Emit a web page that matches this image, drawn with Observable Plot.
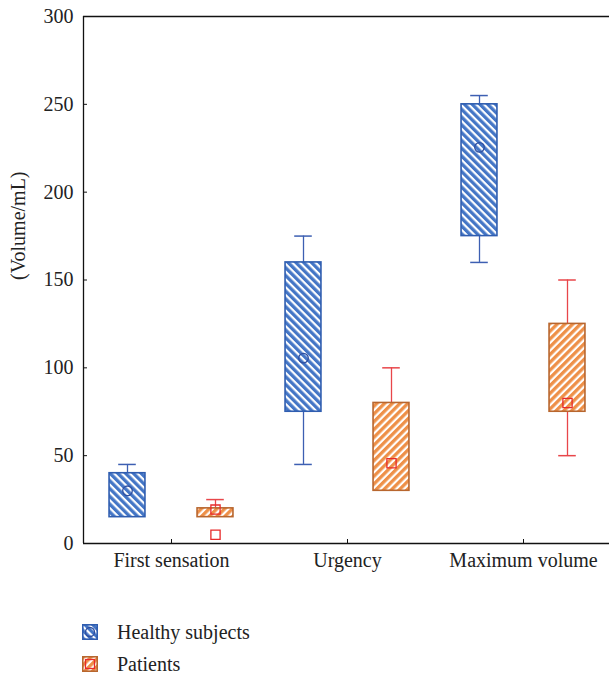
<!DOCTYPE html>
<html>
<head>
<meta charset="utf-8">
<script src="https://cdn.jsdelivr.net/npm/d3@7"></script>
<script src="https://cdn.jsdelivr.net/npm/@observablehq/plot@0.6"></script>
<style>
  body { margin: 0; background: #fff; font-family: "Liberation Serif", "DejaVu Serif", serif; }
  #legend { position: relative; margin-left: 82px; margin-top: 16px; font-size: 20px; color: #222; }
  .item { display: flex; align-items: center; height: 32px; }
  .item svg { margin-right: 19px; }
</style>
</head>
<body>
<div id="chart"></div>
<div id="legend"></div>
<script>
// ---- data ----
const categories = ["First sensation", "Urgency", "Maximum volume"];
const groups = ["Healthy subjects", "Patients"];
const healthyLow  = [15, 45, 160];
const healthyQ1   = [15, 75, 175];
const healthyQ3   = [40, 160, 250];
const healthyHigh = [45, 175, 255];
const healthyMean = [30, 105.5, 225.5];
const patientsLow  = [15, 30, 50];
const patientsQ1   = [15, 30, 75];
const patientsQ3   = [20, 80, 125];
const patientsHigh = [25, 100, 150];
const patientsMean = [19.3, 45.7, 80];
const patientsOutliers = [{category: "First sensation", value: 5}];
const yTicks = [0, 50, 100, 150, 200, 250, 300];

// ---- styles ----
const style = {
  "Healthy subjects": {fill: "url(#hatchBlue)", box: "#2f5db0", whisker: "#3d5fb2", mean: "#2f4fa0", symbol: "circle", offset: -0.25},
  "Patients": {fill: "url(#hatchOrange)", box: "#b8662e", whisker: "#e8464a", mean: "#e82a2a", symbol: "square", offset: 0.25}
};

const rows = [];
categories.forEach((c, i) => {
  rows.push({category: c, group: groups[0], i, lo: healthyLow[i], q1: healthyQ1[i], q3: healthyQ3[i], hi: healthyHigh[i], mean: healthyMean[i]});
  rows.push({category: c, group: groups[1], i, lo: patientsLow[i], q1: patientsQ1[i], q3: patientsQ3[i], hi: patientsHigh[i], mean: patientsMean[i]});
});
rows.forEach(d => d.x = d.i + style[d.group].offset);
const outliers = patientsOutliers.map(o => ({x: categories.indexOf(o.category) + style["Patients"].offset, value: o.value}));

const halfBox = 0.102, halfCap = 0.05;
const font = "'Liberation Serif', 'DejaVu Serif', serif";

const svg = Plot.plot({
  width: 609,
  height: 600,
  marginTop: 16,
  marginBottom: 57,
  marginLeft: 83,
  marginRight: 0,
  style: {fontFamily: font, fontSize: "20px", color: "#222", background: "#fff"},
  x: {type: "linear", domain: [-0.5, 2.5], range: [83, 611]},
  y: {domain: [0, 300], range: [543, 16]},
  marks: [
    // whiskers
    Plot.ruleX(rows.filter(d => d.hi > d.q3), {x: "x", y1: "q3", y2: "hi", stroke: d => style[d.group].whisker, strokeWidth: 1.3}),
    Plot.ruleX(rows.filter(d => d.lo < d.q1), {x: "x", y1: "lo", y2: "q1", stroke: d => style[d.group].whisker, strokeWidth: 1.3}),
    Plot.ruleY(rows.filter(d => d.hi > d.q3), {y: "hi", x1: d => d.x - halfCap, x2: d => d.x + halfCap, stroke: d => style[d.group].whisker, strokeWidth: 1.5}),
    Plot.ruleY(rows.filter(d => d.lo < d.q1), {y: "lo", x1: d => d.x - halfCap, x2: d => d.x + halfCap, stroke: d => style[d.group].whisker, strokeWidth: 1.5}),
    // boxes
    Plot.rect(rows, {x1: d => d.x - halfBox, x2: d => d.x + halfBox, y1: "q1", y2: "q3", fill: d => style[d.group].fill, stroke: d => style[d.group].box, strokeWidth: 1.6}),
    // means
    Plot.dot(rows.filter(d => d.group === groups[0]), {x: "x", y: "mean", symbol: "circle", r: 4.8, stroke: d => style[d.group].mean, strokeWidth: 1.3, fill: "none"}),
    Plot.dot(rows.filter(d => d.group === groups[1]), {x: "x", y: "mean", symbol: "square", r: 5.2, stroke: d => style[d.group].mean, strokeWidth: 1.3, fill: "none"}),
    // outliers
    Plot.dot(outliers, {x: "x", y: "value", symbol: "square", r: 5.2, stroke: style["Patients"].mean, strokeWidth: 1.3, fill: "none"}),
    // frame
    Plot.ruleX([-0.5], {stroke: "#111", strokeWidth: 1.3}),
    Plot.ruleY([0, 300], {stroke: "#111", strokeWidth: 1.3}),
    // axes (ticks through Plot axes, labels as serif text)
    Plot.axisY({ticks: yTicks, tickSize: -4, tickFormat: () => "", label: null, stroke: "#111"}),
    Plot.text(yTicks, {x: -0.5, y: d => d, text: d => String(d), textAnchor: "end", dx: -10, fontSize: 20, fontFamily: font, fill: "#222"}),
    Plot.axisX({ticks: [0, 1, 2], tickFormat: i => categories[i], tickSize: -4, tickPadding: 13, label: null, stroke: "#111", fontFamily: font, fontVariant: "normal", fontSize: 20}),
    Plot.text(["(Volume/mL)"], {frameAnchor: "left", rotate: -90, dx: -65, fontSize: 20, fontFamily: font, fill: "#222"})
  ]
});

function addDefs(sel) {
  const defs = sel.insert("defs", ":first-child");
  const b = defs.append("pattern").attr("id", "hatchBlue").attr("patternUnits", "userSpaceOnUse")
    .attr("width", 5.5).attr("height", 5.5).attr("patternTransform", "rotate(-45)");
  b.append("rect").attr("width", 5.5).attr("height", 5.5).attr("fill", "#ffffff");
  b.append("rect").attr("width", 3.3).attr("height", 5.5).attr("fill", "#4476c6");
  const o = defs.append("pattern").attr("id", "hatchOrange").attr("patternUnits", "userSpaceOnUse")
    .attr("width", 5.5).attr("height", 5.5).attr("patternTransform", "rotate(45)");
  o.append("rect").attr("width", 5.5).attr("height", 5.5).attr("fill", "#ffffff");
  o.append("rect").attr("width", 3.3).attr("height", 5.5).attr("fill", "#ee9048");
}
addDefs(d3.select(svg));
document.getElementById("chart").appendChild(svg);

// legend
const legend = d3.select("#legend");
groups.forEach(g => {
  const s = style[g];
  const item = legend.append("div").attr("class", "item");
  const sw = item.append("svg").attr("width", 16).attr("height", 16);
  addDefs(sw);
  sw.append("rect").attr("x", 0.8).attr("y", 0.8).attr("width", 14.4).attr("height", 14.4)
    .attr("fill", s.fill).attr("stroke", s.box).attr("stroke-width", 1.6);
  if (s.symbol === "circle") {
    sw.append("circle").attr("cx", 8).attr("cy", 8).attr("r", 4.5).attr("fill", "none").attr("stroke", s.mean).attr("stroke-width", 1.3);
  } else {
    sw.append("rect").attr("x", 3.5).attr("y", 3.5).attr("width", 9).attr("height", 9).attr("fill", "none").attr("stroke", s.mean).attr("stroke-width", 1.3);
  }
  item.append("span").text(g);
});
</script>
</body>
</html>
